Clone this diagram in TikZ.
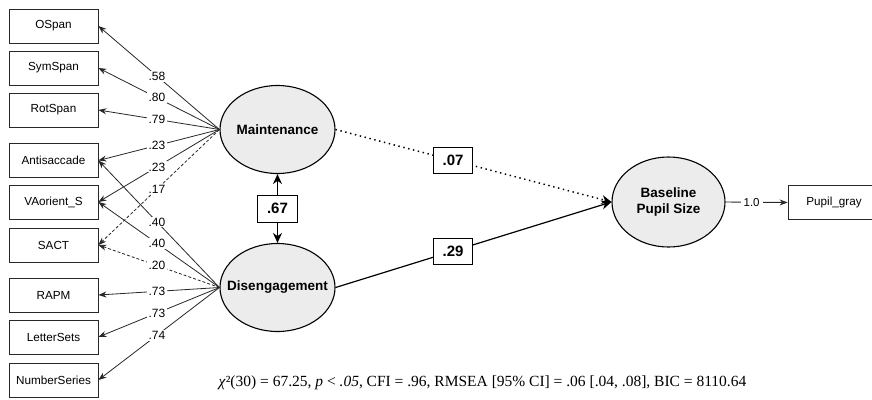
\documentclass[tikz,border=0pt]{standalone}
\usepackage{fontspec}
\setmainfont{Liberation Sans}
\newfontfamily\capfont{Liberation Serif}
\usetikzlibrary{arrows.meta,shapes.geometric}
\definecolor{latentfill}{RGB}{236,236,236}
\definecolor{linec}{RGB}{40,40,40}
\tikzset{
  obsbox/.style={draw=linec,line width=0.8pt,minimum width=89pt,minimum height=34pt,inner sep=0pt,font=\fontsize{11.7}{13}\selectfont},
  latent/.style={ellipse,draw=black,line width=1.1pt,fill=latentfill,inner sep=0pt},
  latlab/.style={font=\bfseries\fontsize{13.5}{16}\selectfont,align=center,inner sep=0pt},
  load/.style={-{Stealth[length=8pt,width=6pt]},draw=linec,line width=0.8pt},
  lab/.style={fill=white,inner sep=1.2pt,font=\fontsize{12}{13}\selectfont},
  coef/.style={solid,draw=black,fill=white,line width=0.9pt,minimum width=39pt,minimum height=26pt,inner sep=0pt,font=\bfseries\fontsize{15}{16}\selectfont},
  pathline/.style={-{Stealth[length=10pt,width=9pt]},line width=1.2pt,draw=black}
}
\begin{document}
\begin{tikzpicture}[x=1pt,y=-1pt]
\clip (0,0) rectangle (872,399);
\fill[white] (0,0) rectangle (872,399);
% observed indicators
\node[obsbox] (ospan) at (53.5,26) {OSpan};
\node[obsbox] (symspan) at (53.5,68) {SymSpan};
\node[obsbox] (rotspan) at (53.5,110) {RotSpan};
\node[obsbox] (anti) at (53.5,160.5) {Antisaccade};
\node[obsbox] (vaor) at (53.5,202) {VAorient\_S};
\node[obsbox] (sact) at (53.5,245) {SACT};
\node[obsbox] (rapm) at (53.5,295) {RAPM};
\node[obsbox] (letter) at (53.5,337) {LetterSets};
\node[obsbox] (number) at (53.5,380) {NumberSeries};
% latent variables
\node[latent,minimum width=115pt,minimum height=88pt] (maint) at (277.5,129.5) {};
\node[latlab] (maintlab) at (maint.center) {Maintenance};
\node[latent,minimum width=115pt,minimum height=88pt] (diseng) at (277.5,287.5) {};
\node[latlab] (disenglab) at (diseng.center) {Disengagement};
\node[latent,minimum width=113pt,minimum height=90pt] (base) at (668.5,202) {};
\node[latlab] (baselab) at (base.center) {Baseline\\Pupil Size};
\node[obsbox,minimum width=92pt] (pupil) at (834,202.5) {Pupil\_gray};
% loadings from Maintenance
\draw[load] (maint.west) -- node[lab,pos=0.516]{.58} (ospan.east);
\draw[load] (maint.west) -- node[lab,pos=0.516]{.80} (symspan.east);
\draw[load] (maint.west) -- node[lab,pos=0.516]{.79} (rotspan.east);
\draw[load] (maint.west) -- node[lab,pos=0.516]{.23} (anti.east);
\draw[load] (maint.west) -- node[lab,pos=0.516]{.23} (vaor.east);
\draw[load,dash pattern=on 3pt off 2pt] (maint.west) -- node[lab,pos=0.516]{.17} (sact.east);
% loadings from Disengagement
\draw[load] (diseng.west) -- node[lab,pos=0.516]{.40} (anti.east);
\draw[load] (diseng.west) -- node[lab,pos=0.516]{.40} (vaor.east);
\draw[load,dash pattern=on 3pt off 2pt] (diseng.west) -- node[lab,pos=0.516]{.20} (sact.east);
\draw[load] (diseng.west) -- node[lab,pos=0.516]{.73} (rapm.east);
\draw[load] (diseng.west) -- node[lab,pos=0.516]{.73} (letter.east);
\draw[load] (diseng.west) -- node[lab,pos=0.516]{.74} (number.east);
% correlation
\draw[{Stealth[length=10pt,width=9pt]}-{Stealth[length=10pt,width=9pt]},line width=1.2pt] (maint.south) -- node[coef,minimum width=40pt,minimum height=27pt]{.67} (diseng.north);
% structural paths
\draw[pathline,dash pattern=on 1.4pt off 3.6pt,line width=1.5pt,-{Stealth[length=10pt,width=9pt,line width=0pt]}] (maint.east) -- node[coef,pos=0.426]{.07} (base.west);
\draw[pathline] (diseng.east) -- node[coef,pos=0.426]{.29} (base.west);
% measurement of baseline
\draw[load,line width=0.9pt] (base.east) -- node[fill=white,inner sep=3pt,font=\fontsize{11.5}{13}\selectfont,pos=0.42]{1.0} (pupil.west);
% caption
\node[font=\capfont\fontsize{15.5}{17}\selectfont] (cap) at (482.5,383) {\textit{χ}²(30) = 67.25, \textit{p} < \textit{.05}, CFI = .96, RMSEA [95\% CI] = .06 [.04, .08], BIC = 8110.64};
\end{tikzpicture}
\end{document}
